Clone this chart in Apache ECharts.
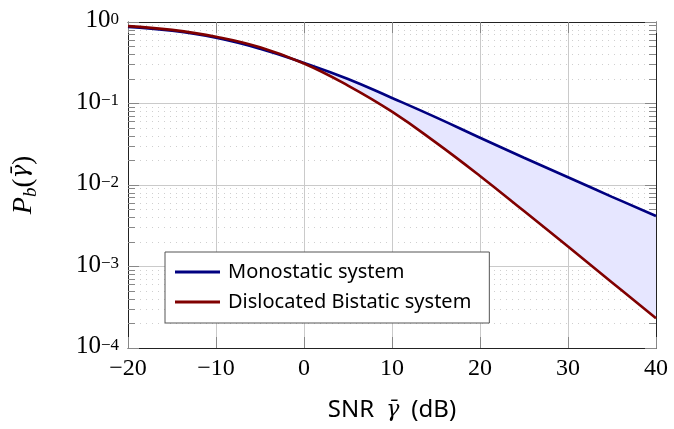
<!DOCTYPE html>
<html>
<head>
<meta charset="utf-8">
<script src="https://cdn.jsdelivr.net/npm/echarts@6/dist/echarts.min.js"></script>
<style>
html, body { margin: 0; padding: 0; background: #fff; }
#chart { width: 674px; height: 429px; }
</style>
</head>
<body>
<div id="chart"></div>
<script>
// SNR (dB)
var snrDb = [-20, -15, -10, -5, 0, 5, 10, 15, 20, 25, 30, 35, 40];
// bit error probability
var monostatic = [0.87, 0.78, 0.64, 0.47, 0.315, 0.20, 0.117, 0.0676, 0.038, 0.0216, 0.01245, 0.00716, 0.00417];
var bistatic = [0.89, 0.80, 0.66, 0.49, 0.31, 0.166, 0.0794, 0.0331, 0.0129, 0.00479, 0.00176, 0.000638, 0.000232];
var seriesNames = ['Monostatic system', 'Dislocated Bistatic system'];

var serif = 'Liberation Serif';
var sans = 'Noto Sans';
var smoothness = 0.45;

function pairs(xs, ys) {
    return xs.map(function (x, i) { return [x, ys[i]]; });
}

// 10^n tick label
function powLabel(v) {
    var e = Math.round(Math.log10(v));
    var s = e < 0 ? '\u2212' + (-e) : '' + e;
    return '{b|10}{s|' + s + '}';
}

var chart = echarts.init(document.getElementById('chart'), null, { renderer: 'canvas' });

var option = {
    animation: false,
    backgroundColor: '#fff',
    grid: { left: 128, right: 18, top: 22, bottom: 81 },
    legend: {
        data: seriesNames,
        orient: 'vertical',
        left: 165,
        top: 252,
        padding: [10, 18, 11, 10],
        itemGap: 10,
        itemWidth: 45,
        itemHeight: 3,
        icon: 'rect',
        borderColor: '#555',
        borderWidth: 1,
        backgroundColor: '#fff',
        textStyle: { fontFamily: sans, fontSize: 20, color: '#000', lineHeight: 20, padding: [0, 0, 0, 3] }
    },
    xAxis: [
        {
            type: 'value', min: -20, max: 40, interval: 10,
            name: '{t|SNR\u2002}{g|\u03B3\u0304}{t|\u2002(dB)}',
            nameLocation: 'middle', nameGap: 50,
            nameTextStyle: {
                fontFamily: sans, fontSize: 24, color: '#000',
                rich: {
                    t: { fontFamily: sans, fontSize: 24, color: '#000' },
                    g: { fontFamily: 'DejaVu Serif', fontStyle: 'italic', fontSize: 22, color: '#000' }
                }
            },
            axisLine: { show: true, onZero: false, lineStyle: { color: '#222', width: 1 } },
            axisTick: { show: true, inside: true, length: 11, lineStyle: { color: '#888' } },
            axisLabel: {
                margin: 9, fontFamily: serif, fontSize: 24, color: '#000',
                formatter: function (v) { return v < 0 ? '\u2212' + (-v) : '' + v; }
            },
            splitLine: { show: true, lineStyle: { color: '#cacaca', width: 1 } }
        },
        {
            type: 'value', min: -20, max: 40, interval: 10, position: 'top',
            axisLine: { show: true, onZero: false, lineStyle: { color: '#222', width: 1 } },
            axisTick: { show: true, inside: true, length: 11, lineStyle: { color: '#888' } },
            axisLabel: { show: false },
            splitLine: { show: false }
        }
    ],
    yAxis: [
        {
            type: 'log', logBase: 10, min: 1e-4, max: 1,
            name: '{p|P}{sub|b}{q|(}{g|\u03B3\u0304}{q|)}',
            nameLocation: 'middle', nameGap: 88, nameRotate: 90,
            nameTextStyle: {
                rich: {
                    p: { fontFamily: serif, fontStyle: 'italic', fontSize: 28, color: '#000', lineHeight: 30, verticalAlign: 'top' },
                    sub: { fontFamily: serif, fontStyle: 'italic', fontSize: 19, color: '#000', lineHeight: 16, verticalAlign: 'bottom' },
                    q: { fontFamily: serif, fontSize: 27, color: '#000', lineHeight: 30, verticalAlign: 'top' },
                    g: { fontFamily: 'DejaVu Serif', fontStyle: 'italic', fontSize: 23, color: '#000', lineHeight: 30, verticalAlign: 'top' }
                }
            },
            axisLine: { show: true, onZero: false, lineStyle: { color: '#222', width: 1 } },
            axisTick: { show: true, inside: true, length: 11, lineStyle: { color: '#888' } },
            minorTick: { show: true, splitNumber: 9, length: 7, lineStyle: { color: '#888' } },
            axisLabel: {
                margin: 9, fontFamily: serif, fontSize: 24, color: '#000',
                formatter: powLabel,
                rich: {
                    b: { fontFamily: serif, fontSize: 25, color: '#000', lineHeight: 22, verticalAlign: 'bottom', padding: [6, 0, 0, 0] },
                    s: { fontFamily: serif, fontSize: 17, color: '#000', lineHeight: 14, verticalAlign: 'top' }
                }
            },
            splitLine: { show: true, lineStyle: { color: '#cacaca', width: 1 } },
            minorSplitLine: { show: true, lineStyle: { color: '#cfcfcf', width: 1, type: [1, 5] } }
        },
        {
            type: 'log', logBase: 10, min: 1e-4, max: 1, position: 'right',
            axisLine: { show: true, onZero: false, lineStyle: { color: '#222', width: 1 } },
            axisTick: { show: true, inside: true, length: 11, lineStyle: { color: '#888' } },
            minorTick: { show: true, splitNumber: 9, length: 7, lineStyle: { color: '#888' } },
            axisLabel: { show: false },
            splitLine: { show: false }
        }
    ],
    series: [
        {
            // shaded gap between the two curves
            type: 'custom',
            name: 'gap',
            xAxisIndex: 0,
            yAxisIndex: 0,
            silent: true,
            z: 1,
            clip: true,
            data: [[snrDb[0], monostatic[0]]],
            renderItem: function (params, api) {
                var top = snrDb.map(function (x, i) { return api.coord([x, monostatic[i]]); });
                var bottom = snrDb.map(function (x, i) { return api.coord([x, bistatic[i]]); }).reverse();
                // doubled end points keep the corners sharp
                var pts = [top[0]].concat(top, [top[top.length - 1]], [bottom[0]], bottom, [bottom[bottom.length - 1]]);
                return {
                    type: 'polygon',
                    shape: { points: pts, smooth: smoothness },
                    style: { fill: '#e6e6ff', stroke: null }
                };
            }
        },
        {
            name: seriesNames[0],
            type: 'line',
            data: pairs(snrDb, monostatic),
            smooth: smoothness,
            showSymbol: false,
            color: '#000080',
            lineStyle: { color: '#000080', width: 2.6 },
            z: 3
        },
        {
            name: seriesNames[1],
            type: 'line',
            data: pairs(snrDb, bistatic),
            smooth: smoothness,
            showSymbol: false,
            color: '#800000',
            lineStyle: { color: '#800000', width: 2.6 },
            z: 4
        }
    ]
};

chart.setOption(option);
</script>
</body>
</html>
